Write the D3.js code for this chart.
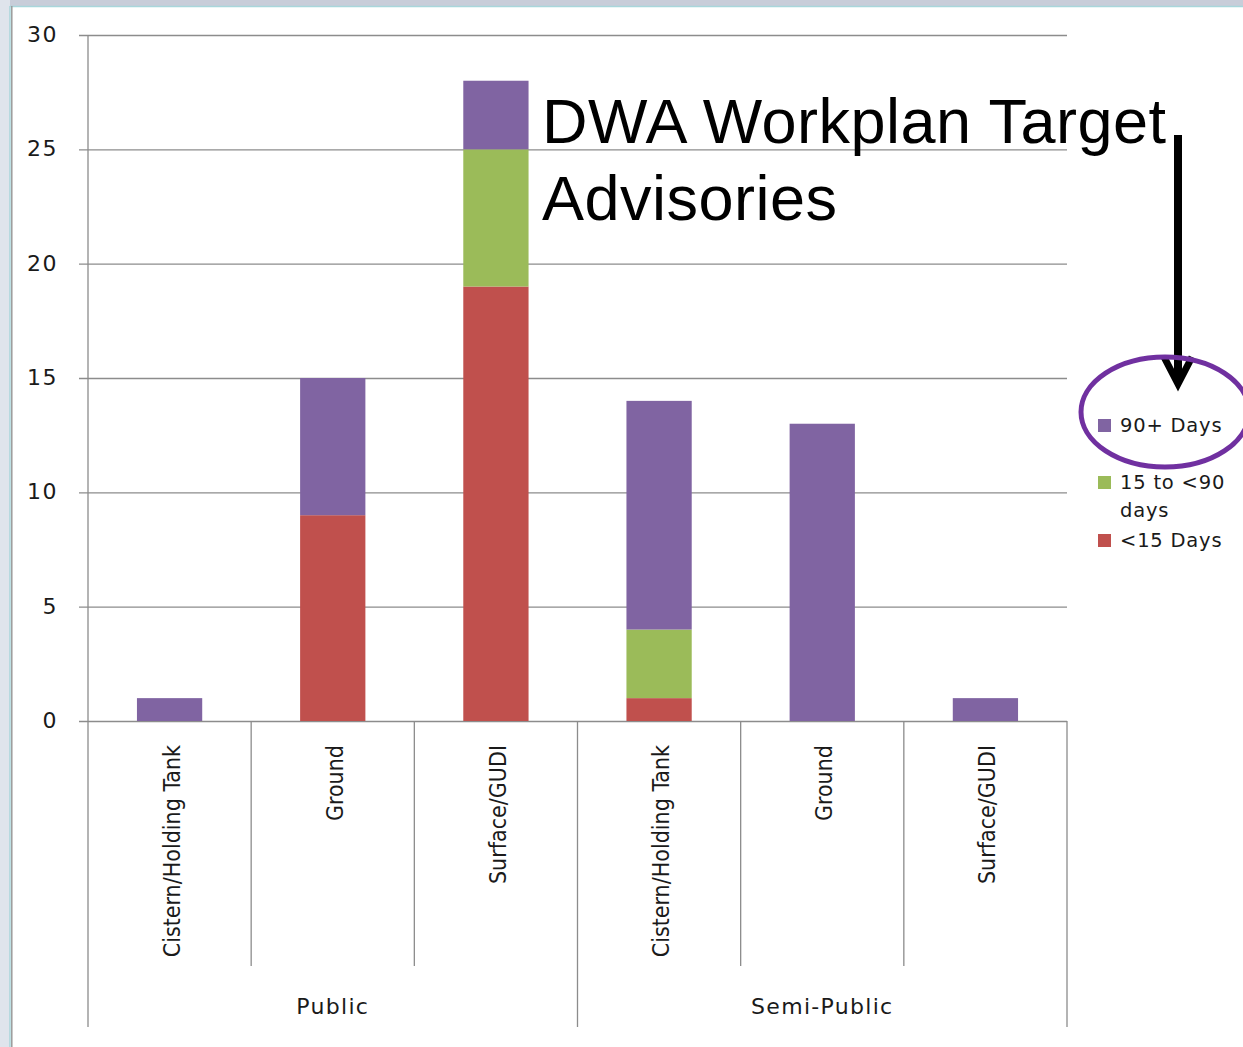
<!DOCTYPE html>
<html>
<head>
<meta charset="utf-8">
<script src="https://cdn.jsdelivr.net/npm/d3@7"></script>
<style>
  body { margin: 0; background: #fff; }
  svg { display: block; }
</style>
</head>
<body>
<div id="chart"></div>
<script>
// data
const categories = ["Cistern/Holding Tank", "Ground", "Surface/GUDI", "Cistern/Holding Tank", "Ground", "Surface/GUDI"];
const groups = ["Public", "Semi-Public"];
const lessThan15 = [0, 9, 19, 1, 0, 0];
const days15to90 = [0, 0, 6, 3, 0, 0];
const days90plus = [1, 6, 3, 10, 13, 1];
const seriesNames = ["<15 Days", "15 to <90 days", "90+ Days"];
const yTicks = [0, 5, 10, 15, 20, 25, 30];

const svgWidth = 1243, svgHeight = 1047;
const margin = { top: 35, left: 88, right: 176, bottom: 326 };
const width = svgWidth - margin.left - margin.right;
const height = svgHeight - margin.top - margin.bottom;

const svg = d3.select("#chart").append("svg")
  .attr("width", svgWidth)
  .attr("height", svgHeight);

// slide frame
svg.append("rect").attr("x", 0).attr("y", 0).attr("width", svgWidth).attr("height", 6).attr("fill", "#c8cdd9");
svg.append("rect").attr("x", 0).attr("y", 0).attr("width", 10).attr("height", svgHeight).attr("fill", "#dfe4ec");
svg.append("line").attr("x1", 10).attr("x2", svgWidth).attr("y1", 6.5).attr("y2", 6.5).attr("stroke", "#a8d6db").attr("stroke-width", 1.5);
svg.append("line").attr("x1", 10).attr("x2", 10).attr("y1", 6).attr("y2", svgHeight).attr("stroke", "#a8d6db").attr("stroke-width", 1.5);
svg.append("line").attr("x1", 11.8).attr("x2", 11.8).attr("y1", 6).attr("y2", svgHeight).attr("stroke", "#9a9a9a").attr("stroke-width", 1.5);

const g = svg.append("g").attr("transform", `translate(${margin.left},${margin.top})`);

// scales
const idx = d3.range(categories.length);
const x = d3.scaleBand().domain(idx).range([0, width]).paddingInner(0.6).paddingOuter(0.3);
const y = d3.scaleLinear().domain([0, 30]).range([height, 0]);
const color = d3.scaleOrdinal().domain(seriesNames).range(["#c0504d", "#9bbb59", "#8064a2"]);

// gridlines + y axis
const yAxis = g.append("g")
  .call(d3.axisLeft(y).tickValues(yTicks).tickSize(-width - 9).tickPadding(20).tickSizeOuter(0))
  .attr("transform", "translate(-9,0)");
yAxis.select(".domain").remove();
yAxis.selectAll(".tick line").attr("stroke", "#8c8c8c").attr("stroke-width", 1.3).attr("x1", 0).attr("x2", width + 9);
yAxis.selectAll(".tick text")
  .attr("x", -21)
  .attr("dy", "0.3em")
  .style("font-family", "'DejaVu Sans', Verdana, sans-serif")
  .style("font-size", "22px")
  .style("letter-spacing", "1.5px")
  .attr("fill", "#1a1a1a");

// vertical axis line
g.append("line").attr("x1", 0).attr("x2", 0).attr("y1", 0).attr("y2", height + 306)
  .attr("stroke", "#8c8c8c").attr("stroke-width", 1.3);

// category separators
const step = x.step();
d3.range(1, categories.length + 1).forEach(i => {
  const long = i % 3 === 0;
  g.append("line")
    .attr("x1", i * step).attr("x2", i * step)
    .attr("y1", height).attr("y2", height + (long ? 306 : 245))
    .attr("stroke", "#8c8c8c").attr("stroke-width", 1.3);
});

// stacked bars
const table = idx.map(i => ({ i: i, "<15 Days": lessThan15[i], "15 to <90 days": days15to90[i], "90+ Days": days90plus[i] }));
const stacked = d3.stack().keys(seriesNames)(table);

g.selectAll(".series")
  .data(stacked)
  .enter().append("g")
  .attr("fill", d => color(d.key))
  .selectAll("rect")
  .data(d => d.filter(p => p[1] > p[0]))
  .enter().append("rect")
  .attr("x", d => x(d.data.i))
  .attr("width", x.bandwidth())
  .attr("y", d => y(d[1]))
  .attr("height", d => y(d[0]) - y(d[1]));

// category labels
g.selectAll(".cat")
  .data(categories)
  .enter().append("text")
  .attr("transform", (d, i) => `translate(${x(i) + x.bandwidth() / 2 + 10},${height + 24}) rotate(-90)`)
  .attr("text-anchor", "end")
  .style("font-family", "'DejaVu Sans Condensed', 'DejaVu Sans', sans-serif")
  .style("font-size", "23px")
  .attr("fill", "#1a1a1a")
  .text(d => d);

// group labels
g.selectAll(".grp")
  .data(groups)
  .enter().append("text")
  .attr("x", (d, i) => (i * 3 + 1.5) * step)
  .attr("y", height + 293)
  .attr("text-anchor", "middle")
  .style("font-family", "'DejaVu Sans', Verdana, sans-serif")
  .style("font-size", "22px")
  .style("letter-spacing", "1.3px")
  .attr("fill", "#1a1a1a")
  .text(d => d);

// legend
const legendItems = [
  { key: "90+ Days", lines: ["90+ Days"], y: 425 },
  { key: "15 to <90 days", lines: ["15 to <90", "days"], y: 482 },
  { key: "<15 Days", lines: ["<15 Days"], y: 540 }
];
const legend = svg.append("g");
legendItems.forEach(item => {
  legend.append("rect")
    .attr("x", 1098).attr("y", item.y - 6)
    .attr("width", 13).attr("height", 13)
    .attr("fill", color(item.key));
  const t = legend.append("text")
    .attr("x", 1120).attr("y", item.y + 7)
    .style("font-family", "'DejaVu Sans', Verdana, sans-serif")
    .style("font-size", "19.5px")
    .style("letter-spacing", "0.8px")
    .attr("fill", "#1a1a1a");
  item.lines.forEach((line, k) => {
    t.append("tspan").attr("x", 1120).attr("dy", k === 0 ? 0 : 28).text(line);
  });
});

// annotation
const note = svg.append("text")
  .attr("x", 542).attr("y", 143)
  .style("font-family", "'Liberation Sans', Arial, sans-serif")
  .style("font-size", "63px")
  .style("letter-spacing", "0.5px")
  .attr("fill", "#000");
note.append("tspan").attr("x", 542).text("DWA Workplan Target");
note.append("tspan").attr("x", 542).attr("dy", 77).text("Advisories");

svg.append("line")
  .attr("x1", 1178).attr("x2", 1178).attr("y1", 135).attr("y2", 382)
  .attr("stroke", "#000").attr("stroke-width", 8);
svg.append("path")
  .attr("d", "M1164,357 L1178,384 L1192,357")
  .attr("fill", "none").attr("stroke", "#000").attr("stroke-width", 7)
  .attr("stroke-linejoin", "miter");

svg.append("ellipse")
  .attr("cx", 1165).attr("cy", 412).attr("rx", 84).attr("ry", 55)
  .attr("fill", "none").attr("stroke", "#7030a0").attr("stroke-width", 5);
</script>
</body>
</html>
